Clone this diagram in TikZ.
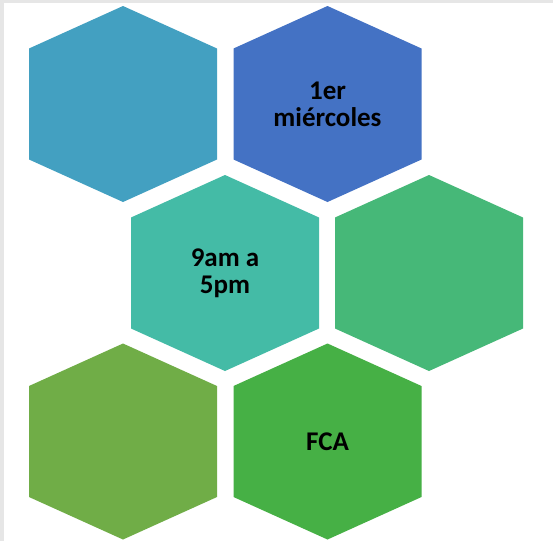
\documentclass[tikz,border=0pt]{standalone}
\usepackage{fontspec}
\setmainfont{Carlito}
\usepackage{tikz}
\usetikzlibrary{positioning}
\definecolor{hexA}{HTML}{43A0C1}
\definecolor{hexB}{HTML}{4472C4}
\definecolor{hexC}{HTML}{44BBA6}
\definecolor{hexD}{HTML}{46B878}
\definecolor{hexE}{HTML}{70AD47}
\definecolor{hexF}{HTML}{46B045}
\definecolor{frame}{HTML}{E6E6E6}
\tikzstyle{hexlabel} = [font=\bfseries\fontsize{27}{27}\selectfont, align=center, text=black, inner sep=0pt]

\begin{document}
\begin{tikzpicture}[x=1pt, y=-1pt]

\useasboundingbox (0,0) rectangle (553,541);
\fill[white] (0,0) rectangle (553,541);
\fill[frame] (0,0) rectangle (553,3);
\fill[frame] (0,0) rectangle (4,541);

% honeycomb
\foreach \name/\x/\y/\col in {h1/123/104/hexA, h2/327.5/104/hexB, h3/225/273/hexC, h4/429/273/hexD, h5/123/441.5/hexE, h6/327.5/441.5/hexF} {
  \fill[\col] (\x-94,\y-55.5) -- (\x,\y-98) -- (\x+94,\y-55.5) -- (\x+94,\y+55.5) -- (\x,\y+98) -- (\x-94,\y+55.5) -- cycle;
  \coordinate (\name) at (\x,\y);
}

\node (day) [hexlabel] at (h2) {1er\\miércoles};
\node (hours) [hexlabel] at (h3) {9am a\\5pm};
\node (place) [hexlabel] at (h6) {FCA};

\end{tikzpicture}
\end{document}
